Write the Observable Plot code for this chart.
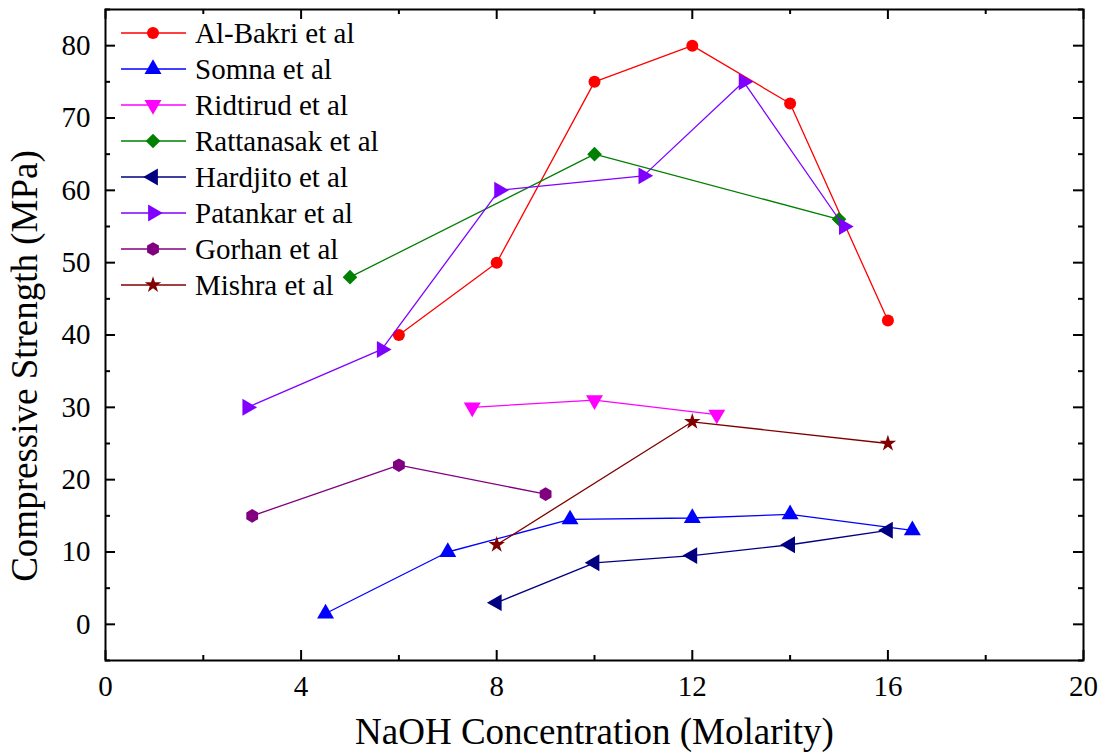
<!DOCTYPE html>
<html>
<head>
<meta charset="utf-8">
<script src="https://cdn.jsdelivr.net/npm/d3@7"></script>
<script src="https://cdn.jsdelivr.net/npm/@observablehq/plot@0.6"></script>
<style>
  html, body { margin: 0; padding: 0; background: #fff; }
  #chart svg { display: block; }
</style>
</head>
<body>
<div id="chart"></div>
<script>
// ---- Data ----
const seriesNames = ["Al-Bakri et al", "Somna et al", "Ridtirud et al", "Rattanasak et al",
                     "Hardjito et al", "Patankar et al", "Gorhan et al", "Mishra et al"];
const seriesColors = ["#FF0000", "#0000FF", "#FF00FF", "#008000",
                      "#000080", "#8000FF", "#800080", "#800000"];

const alBakriX = [6, 8, 10, 12, 14, 16];
const alBakriY = [40, 50, 75, 80, 72, 42];
const somnaX = [4.5, 7, 9.5, 12, 14, 16.5];
const somnaY = [1.5, 10, 14.5, 14.7, 15.2, 13];
const ridtirudX = [7.5, 10, 12.5];
const ridtirudY = [30, 31, 29];
const rattanasakX = [5, 10, 15];
const rattanasakY = [48, 65, 56];
const hardjitoX = [8, 10, 12, 14, 16];
const hardjitoY = [3, 8.5, 9.5, 11, 13];
const patankarX = [2.9, 5.65, 8.05, 11, 13.05, 15.1];
const patankarY = [30, 38, 60, 62, 75, 55];
const gorhanX = [3, 6, 9];
const gorhanY = [15, 22, 18];
const mishraX = [8, 12, 16];
const mishraY = [11, 28, 25];

const xTicks = [0, 4, 8, 12, 16, 20];
const xMinor = [2, 6, 10, 14, 18];
const yTicks = [0, 10, 20, 30, 40, 50, 60, 70, 80];
const yMinor = [-5, 5, 15, 25, 35, 45, 55, 65, 75, 85];

// ---- Custom symbols (triangles pointing down/left/right) ----
const S3 = Math.sqrt(3);
const triUp = { draw(c, size) { const y = -Math.sqrt(size / (S3 * 3)); c.moveTo(0, y * 2); c.lineTo(-S3 * y, -y); c.lineTo(S3 * y, -y); c.closePath(); } };
const triDown = { draw(c, size) { const y = -Math.sqrt(size / (S3 * 3)); c.moveTo(0, -y * 2); c.lineTo(-S3 * y, y); c.lineTo(S3 * y, y); c.closePath(); } };
const triLeft = { draw(c, size) { const y = -Math.sqrt(size / (S3 * 3)); c.moveTo(y * 2, 0); c.lineTo(-y, -S3 * y); c.lineTo(-y, S3 * y); c.closePath(); } };
const triRight = { draw(c, size) { const y = -Math.sqrt(size / (S3 * 3)); c.moveTo(-y * 2, 0); c.lineTo(y, -S3 * y); c.lineTo(y, S3 * y); c.closePath(); } };
const hexagon = { draw(c, size) { const rr = Math.sqrt(size / (1.5 * S3)); for (let k = 0; k < 6; ++k) { const a = Math.PI / 3 * k; const px = rr * Math.sin(a), py = -rr * Math.cos(a); if (k) c.lineTo(px, py); else c.moveTo(px, py); } c.closePath(); } };
const seriesSymbols = [d3.symbolCircle, triUp, triDown, d3.symbolDiamond2, triLeft, triRight, hexagon, d3.symbolStar];
const seriesR = [6, 6.3, 6.3, 6.6, 6.3, 6.3, 6.2, 5.2];

const xs = [alBakriX, somnaX, ridtirudX, rattanasakX, hardjitoX, patankarX, gorhanX, mishraX];
const ys = [alBakriY, somnaY, ridtirudY, rattanasakY, hardjitoY, patankarY, gorhanY, mishraY];
const series = seriesNames.map((name, i) => ({
  name, color: seriesColors[i], symbol: seriesSymbols[i], r: seriesR[i],
  points: xs[i].map((x, j) => ({ x, y: ys[i][j] }))
}));

// ---- Layout ----
const W = 1106, H = 756;
const mL = 105, mR = 23, mT = 9, mB = 96;
const pw = W - mL - mR, ph = H - mT - mB;
const FONT = "'Liberation Serif', 'Times New Roman', serif";

const marks = [];
series.forEach(s => {
  marks.push(Plot.line(s.points, { x: "x", y: "y", stroke: s.color, strokeWidth: 1.3 }));
  marks.push(Plot.dot(s.points, { x: "x", y: "y", fill: s.color, stroke: "none", symbol: () => s.symbol, r: s.r }));
});

// inward ticks on all four sides
const tk = { stroke: "black", strokeWidth: 2 };
marks.push(
  Plot.ruleX(xTicks, { x: d => d, insetTop: ph - 10, ...tk }),
  Plot.ruleX(xTicks, { x: d => d, insetBottom: ph - 10, ...tk }),
  Plot.ruleX(xMinor, { x: d => d, insetTop: ph - 5, ...tk }),
  Plot.ruleX(xMinor, { x: d => d, insetBottom: ph - 5, ...tk }),
  Plot.ruleY(yTicks, { y: d => d, insetRight: pw - 10, ...tk }),
  Plot.ruleY(yTicks, { y: d => d, insetLeft: pw - 10, ...tk }),
  Plot.ruleY(yMinor, { y: d => d, insetRight: pw - 5, ...tk }),
  Plot.ruleY(yMinor, { y: d => d, insetLeft: pw - 5, ...tk }),
  Plot.frame({ stroke: "black", strokeWidth: 2 }),
  Plot.axisX(xTicks, { tickSize: 0, tickPadding: 15, fontSize: 29, label: null, fill: "black" }),
  Plot.axisY(yTicks, { tickSize: 0, tickPadding: 15, fontSize: 29, label: null, fill: "black" }),
  Plot.text(["NaOH Concentration (Molarity)"], { text: d => d, frameAnchor: "bottom", textAnchor: "middle", lineAnchor: "middle", dy: 72, fontSize: 37, fill: "black" }),
  Plot.text(["Compressive Strength (MPa)"], { text: d => d, frameAnchor: "left", textAnchor: "middle", lineAnchor: "middle", dx: -80, dy: 31, rotate: -90, fontSize: 37, fill: "black" })
);

const chart = Plot.plot({
  width: W, height: H,
  marginLeft: mL, marginRight: mR, marginTop: mT, marginBottom: mB,
  style: { fontFamily: FONT, background: "white", color: "black" },
  x: { domain: [0, 20] },
  y: { domain: [-5, 85] },
  marks
});

// ---- Legend inside plot (top-left) ----
const svg = d3.select(chart);
const lg = svg.append("g").attr("font-family", FONT).attr("font-size", 29).attr("text-anchor", "start");
series.forEach((s, i) => {
  const cy = 33 + i * 36;
  lg.append("line").attr("x1", 121).attr("x2", 186).attr("y1", cy).attr("y2", cy)
    .attr("stroke", s.color).attr("stroke-width", 1.3);
  lg.append("path").attr("d", d3.symbol(s.symbol, s.r * s.r * Math.PI)())
    .attr("transform", `translate(153,${cy})`).attr("fill", s.color);
  lg.append("text").attr("x", 195).attr("y", cy).attr("dy", "0.35em")
    .attr("text-anchor", "start").attr("fill", "black").text(s.name);
});

document.getElementById("chart").appendChild(chart);
</script>
</body>
</html>
